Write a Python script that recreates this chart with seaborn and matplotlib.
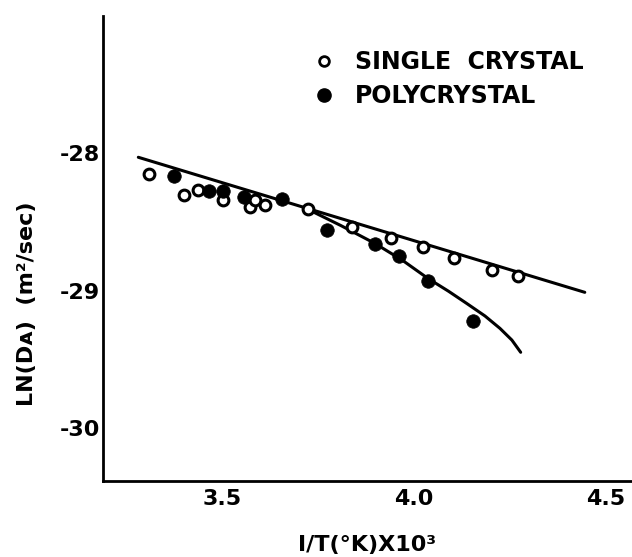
import matplotlib
matplotlib.use("Agg")
import matplotlib.pyplot as plt
import seaborn as sns
import pandas as pd
from matplotlib.lines import Line2D

# ---- data ----
single_x = [3.309, 3.400, 3.437, 3.503, 3.573, 3.586, 3.611, 3.725, 3.839, 3.940, 4.023, 4.104, 4.204, 4.272]
single_y = [-28.155, -28.308, -28.271, -28.342, -28.391, -28.342, -28.378, -28.407, -28.540, -28.616, -28.681, -28.766, -28.851, -28.892]

poly_x = [3.376, 3.467, 3.503, 3.558, 3.655, 3.773, 3.898, 3.961, 4.036, 4.154]
poly_y = [-28.167, -28.274, -28.274, -28.318, -28.337, -28.560, -28.664, -28.749, -28.931, -29.222]

single_fit_x = [3.282, 4.445]
single_fit_y = [-28.031, -29.013]

poly_fit_x = [3.722, 3.810, 3.898, 3.970, 4.036, 4.090, 4.137, 4.185, 4.224, 4.255, 4.278]
poly_fit_y = [-28.407, -28.528, -28.657, -28.780, -28.911, -29.005, -29.093, -29.185, -29.275, -29.360, -29.449]

x_ticks = [3.5, 4.0, 4.5]
x_tick_labels = ["3.5", "4.0", "4.5"]
y_ticks = [-28, -29, -30]
y_tick_labels = ["-28", "-29", "-30"]

labels = ["SINGLE  CRYSTAL", "POLYCRYSTAL"]

# ---- style ----
sns.set_style("white")
plt.rcParams["font.family"] = ["DejaVu Sans"]
plt.rcParams["axes.unicode_minus"] = False
plt.rcParams["text.color"] = "black"
plt.rcParams["axes.labelcolor"] = "black"
plt.rcParams["xtick.color"] = "black"
plt.rcParams["ytick.color"] = "black"

fig = plt.figure(figsize=(6.32, 5.57), dpi=100)
ax = fig.add_axes([103 / 632, 1 - 481 / 557, 1 - 103 / 632, (481 - 15.5) / 557])

df_s = pd.DataFrame({"x": single_x, "y": single_y})
df_p = pd.DataFrame({"x": poly_x, "y": poly_y})

sns.lineplot(x=single_fit_x, y=single_fit_y, ax=ax, color="black", lw=2.2, sort=False)
sns.lineplot(x=poly_fit_x, y=poly_fit_y, ax=ax, color="black", lw=2.2, sort=False)

sns.scatterplot(data=df_s, x="x", y="y", ax=ax, marker="o", s=60,
                facecolor="white", edgecolor="black", linewidth=2.2, zorder=3)
sns.scatterplot(data=df_p, x="x", y="y", ax=ax, marker="o", s=95,
                color="black", edgecolor="black", linewidth=0.5, zorder=4)

ax.set_xlim(3.19, 4.568)
ax.set_ylim(-30.385, -27.0)

ax.set_xticks(x_ticks)
ax.set_xticklabels(x_tick_labels)
ax.set_yticks(y_ticks)
ax.set_yticklabels(y_tick_labels)

for side in ["top", "right"]:
    ax.spines[side].set_visible(False)
for side in ["left", "bottom"]:
    ax.spines[side].set_linewidth(2.0)
    ax.spines[side].set_color("black")

ax.tick_params(axis="both", direction="in", length=6, width=1.8, colors="black",
               labelsize=16)
ax.tick_params(axis="x", pad=6)
ax.tick_params(axis="y", pad=2)
for t in ax.get_xticklabels() + ax.get_yticklabels():
    t.set_fontweight("bold")
    t.set_color("black")

ax.set_xlabel("I/T(°K)X10³", fontsize=16, fontweight="bold", color="black")
ax.set_ylabel("LN(Dᴀ)  (m²/sec)", fontsize=16, fontweight="bold", color="black")
ax.xaxis.set_label_coords(0.50, -0.115)
ax.yaxis.set_label_coords(-0.125, 0.38)

handles = [
    Line2D([], [], marker="o", ls="none", markersize=7, markerfacecolor="white",
           markeredgecolor="black", markeredgewidth=2.0),
    Line2D([], [], marker="o", ls="none", markersize=9.5, markerfacecolor="black",
           markeredgecolor="black"),
]
leg = ax.legend(handles, labels, loc="upper left", bbox_to_anchor=(0.405, 0.925),
                frameon=False, fontsize=17, handlelength=0.6, handletextpad=1.0,
                labelspacing=0.40, borderpad=0, borderaxespad=0)
for t in leg.get_texts():
    t.set_fontweight("bold")
    t.set_color("black")

fig.savefig("out.png", dpi=100)
